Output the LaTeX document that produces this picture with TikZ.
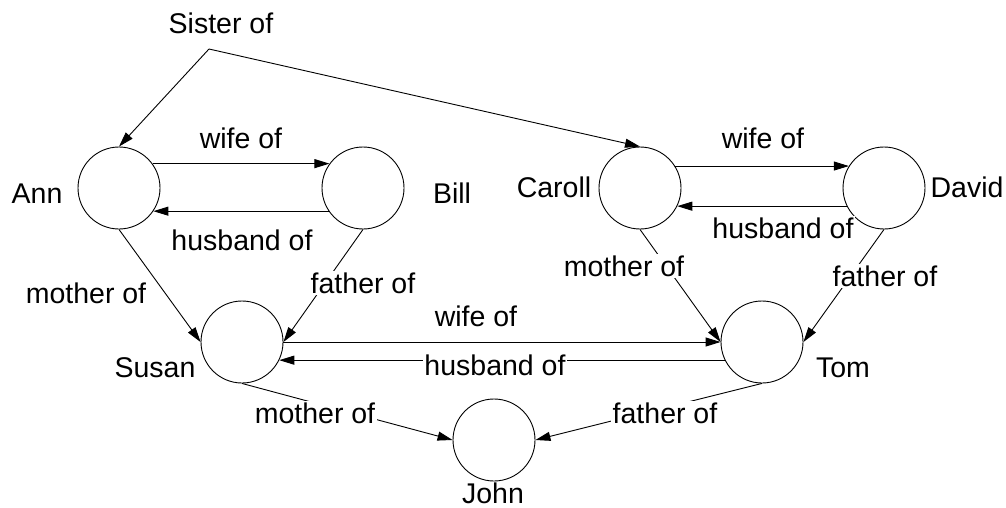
\documentclass[tikz,border=0pt]{standalone}
\usepackage{fontspec}
\setmainfont{Liberation Sans}
\usetikzlibrary{arrows.meta}

\begin{document}
\begin{tikzpicture}[
  x=1pt, y=-1pt,
  font=\fontsize{28.5}{34}\selectfont,
  person/.style={circle, draw, line width=0.9pt, minimum size=82pt, inner sep=0pt},
  pname/.style={anchor=base, inner sep=0pt},
  rel/.style={anchor=base, fill=white, inner sep=1.5pt},
  arr/.style={line width=0.9pt, -{Triangle[length=15pt,width=9pt]}}
]
\useasboundingbox (0,0) rectangle (1006,508);

% people
\node[person] (ann)    at (119,188) {};
\node[person] (bill)   at (363,188) {};
\node[person] (caroll) at (640,188) {};
\node[person] (david)  at (884,188) {};
\node[person] (susan)  at (242,342) {};
\node[person] (tom)    at (762,342) {};
\node[person] (john)   at (494,440) {};

% names
\node[pname] (nAnn)    at (37,203)  {Ann};
\node[pname] (nBill)   at (452,203) {Bill};
\node[pname] (nCaroll) at (554,197) {Caroll};
\node[pname] (nDavid)  at (967,197) {David};
\node[pname] (nSusan)  at (155,377) {Susan};
\node[pname] (nTom)    at (843,377) {Tom};
\node[pname] (nJohn)   at (493,503) {John};

% sister relation
\coordinate (apex) at (209,49);
\draw[arr] (apex) -- (caroll.north);
\draw[arr] (apex) -- (ann.north);

% couples
\draw[arr] (ann.36) -- (bill.144);
\draw[arr] (bill.-146) -- (ann.-34);
\draw[arr] (caroll.32) -- (david.148);
\draw[arr] (david.-154) -- (caroll.-26);
\draw[arr] (susan.east) -- (tom.west);
\draw[arr] (tom.206) -- (susan.-26);

% parents
\draw[arr] (ann.south) -- (susan.west);
\draw[arr] (bill.south) -- (susan.east);
\draw[arr] (caroll.south) -- (tom.west);
\draw[arr] (david.south) -- (tom.east);
\draw[arr] (susan.south) -- (john.west);
\draw[arr] (tom.south) -- (john.east);

% relation labels
\node[rel] (lSister)  at (221,34)  {Sister of};
\node[rel] (lWifeAB)  at (241,148) {wife of};
\node[rel] (lHusAB)   at (242,250) {husband of};
\node[rel] (lWifeCD)  at (763,148) {wife of};
\node[rel] (lHusCD)   at (783,238) {husband of};
\node[rel] (lMotherA) at (86,303)  {mother of};
\node[rel] (lFatherB) at (363,293) {father of};
\node[rel] (lMotherC) at (624,276) {mother of};
\node[rel] (lFatherD) at (885,286) {father of};
\node[rel] (lWifeST)  at (476,326) {wife of};
\node[rel] (lHusST)   at (495,375) {husband of};
\node[rel] (lMotherS) at (315,423) {mother of};
\node[rel] (lFatherT) at (665,423) {father of};
\end{tikzpicture}
\end{document}
